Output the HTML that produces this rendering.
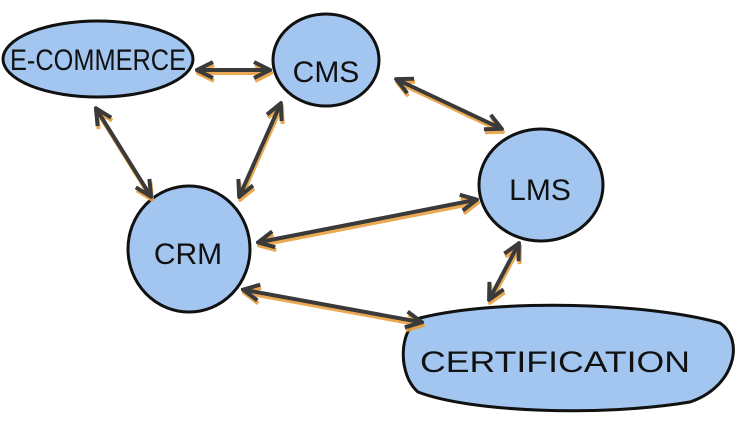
<!DOCTYPE html>
<html><head><style>
html,body{margin:0;padding:0;background:#fff;width:739px;height:435px;overflow:hidden}
svg{display:block}
text{font-family:"Liberation Sans",sans-serif;fill:#111;font-size:30px}
</style></head><body>
<svg width="739" height="435" viewBox="0 0 739 435" xmlns="http://www.w3.org/2000/svg">
<defs>
<marker id="a" viewBox="0 0 10 10" refX="8" refY="5" markerWidth="5" markerHeight="5" orient="auto-start-reverse"><path d="M1,1 L9,5 L1,9" fill="none" stroke="#3a3a3a" stroke-width="2"/></marker>
<marker id="b" viewBox="0 0 10 10" refX="8" refY="5" markerWidth="5" markerHeight="5" orient="auto-start-reverse"><path d="M1,1 L9,5 L1,9" fill="none" stroke="#e8a040" stroke-width="2"/></marker>
</defs>
<g fill="#a3c6f0" stroke="#111" stroke-width="3">
<ellipse cx="98" cy="59" rx="95" ry="38"/>
<ellipse cx="326" cy="60" rx="53" ry="46"/>
<ellipse cx="541" cy="185" rx="62" ry="56"/>
<ellipse cx="189" cy="249" rx="61" ry="63"/>
<path d="M420,318 C500,298 650,303 720,323 C745,340 735,387 690,402 C600,417 470,412 418,392 C398,375 398,330 420,318 Z"/>
</g>
<g fill="none" stroke-width="4" stroke-linecap="round">
<g stroke="#e8a040" transform="translate(1,3)" opacity="0.9">
<line x1="199" y1="70" x2="268" y2="70" marker-start="url(#b)" marker-end="url(#b)"/>
<line x1="97" y1="110" x2="150" y2="195" marker-start="url(#b)" marker-end="url(#b)"/>
<line x1="240" y1="195" x2="280" y2="105" marker-start="url(#b)" marker-end="url(#b)"/>
<line x1="398" y1="80" x2="500" y2="128" marker-start="url(#b)" marker-end="url(#b)"/>
<line x1="260" y1="242" x2="475" y2="200" marker-start="url(#b)" marker-end="url(#b)"/>
<line x1="245" y1="290" x2="420" y2="322" marker-start="url(#b)" marker-end="url(#b)"/>
<line x1="490" y1="298" x2="518" y2="245" marker-start="url(#b)" marker-end="url(#b)"/>
</g>
<g stroke="#3a3a3a">
<line x1="199" y1="70" x2="268" y2="70" marker-start="url(#a)" marker-end="url(#a)"/>
<line x1="97" y1="110" x2="150" y2="195" marker-start="url(#a)" marker-end="url(#a)"/>
<line x1="240" y1="195" x2="280" y2="105" marker-start="url(#a)" marker-end="url(#a)"/>
<line x1="398" y1="80" x2="500" y2="128" marker-start="url(#a)" marker-end="url(#a)"/>
<line x1="260" y1="242" x2="475" y2="200" marker-start="url(#a)" marker-end="url(#a)"/>
<line x1="245" y1="290" x2="420" y2="322" marker-start="url(#a)" marker-end="url(#a)"/>
<line x1="490" y1="298" x2="518" y2="245" marker-start="url(#a)" marker-end="url(#a)"/>
</g>
</g>
<text x="98" y="70" text-anchor="middle" textLength="176" lengthAdjust="spacingAndGlyphs" font-size="34">E-COMMERCE</text>
<text x="326" y="82" text-anchor="middle" font-size="40">CMS</text>
<text x="540" y="200" text-anchor="middle" font-size="40">LMS</text>
<text x="188" y="264" text-anchor="middle" font-size="40">CRM</text>
<text x="555" y="372" text-anchor="middle" textLength="270" lengthAdjust="spacingAndGlyphs" font-size="38">CERTIFICATION</text>
</svg>
</body></html>
